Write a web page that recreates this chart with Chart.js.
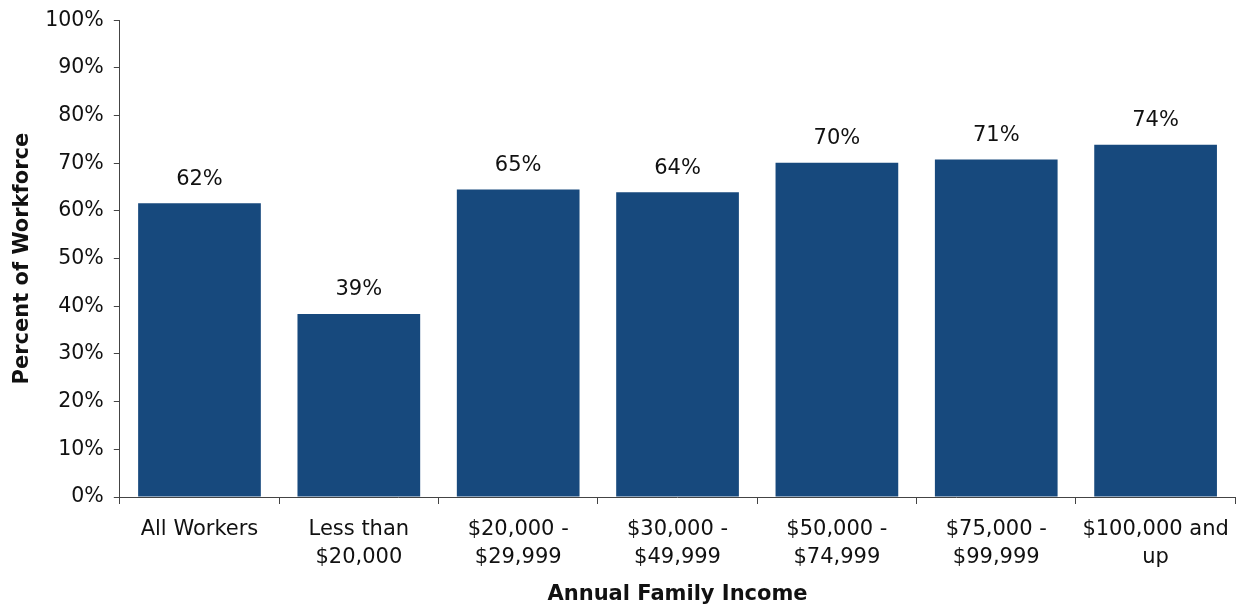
<!DOCTYPE html>
<html>
<head>
<meta charset="utf-8">
<script src="https://cdn.jsdelivr.net/npm/chart.js@4/dist/chart.umd.min.js"></script>
<style>
  html, body { margin: 0; padding: 0; background: #fff; }
</style>
</head>
<body>
<canvas id="chart" width="1241" height="605"></canvas>
<script>
var categories = [
  'All Workers',
  ['Less than', '$20,000'],
  ['$20,000 -', '$29,999'],
  ['$30,000 -', '$49,999'],
  ['$50,000 -', '$74,999'],
  ['$75,000 -', '$99,999'],
  ['$100,000 and', 'up']
];
var percentOfWorkforce = [61.6, 38.4, 64.5, 63.9, 70.1, 70.8, 73.9];
var valueLabels = ['62%', '39%', '65%', '64%', '70%', '71%', '74%'];

var FONT = '"DejaVu Sans", Verdana, sans-serif';

// draws the value text above each bar
var barLabels = {
  id: 'barLabels',
  afterDatasetsDraw: function (chart) {
    var c = chart.ctx;
    var meta = chart.getDatasetMeta(0);
    c.save();
    c.font = '21px ' + FONT;
    c.fillStyle = '#111';
    c.textAlign = 'center';
    c.textBaseline = 'middle';
    meta.data.forEach(function (bar, i) {
      c.fillText(valueLabels[i], bar.x, bar.y - 24);
    });
    c.restore();
  }
};

var ctx = document.getElementById('chart').getContext('2d');
var myChart = new Chart(ctx, {
  type: 'bar',
  data: {
    labels: categories,
    datasets: [{
      data: percentOfWorkforce,
      backgroundColor: '#17497d',
      borderWidth: 0,
      categoryPercentage: 1,
      barPercentage: 0.77,
    }],
  },
  plugins: [barLabels],
  options: {
    responsive: false,
    animation: false,
    devicePixelRatio: 1,
    layout: {
      padding: { left: 10, right: 3, top: -2, bottom: 0 },
    },
    plugins: {
      legend: { display: false },
      tooltip: { enabled: false },
    },
    scales: {
      x: {
        grid: {
          drawOnChartArea: false,
          tickLength: 7,
          color: '#444',
        },
        border: { color: '#444' },
        ticks: {
          color: '#111',
          font: { family: FONT, size: 21, lineHeight: 1.333 },
          padding: 12,
          maxRotation: 0,
        },
        title: {
          display: true,
          text: 'Annual Family Income',
          color: '#111',
          font: { family: FONT, size: 21, weight: 'bold', lineHeight: 1 },
          padding: { top: 0, bottom: 0 },
        },
      },
      y: {
        min: 0,
        max: 100,
        grid: {
          drawOnChartArea: false,
          tickLength: 6,
          color: '#444',
        },
        border: { color: '#444' },
        ticks: {
          stepSize: 10,
          color: '#111',
          font: { family: FONT, size: 20.5, lineHeight: 1 },
          padding: 10,
          callback: function (v) { return v + '%'; },
        },
        title: {
          display: true,
          text: 'Percent of Workforce',
          color: '#111',
          font: { family: FONT, size: 21, weight: 'bold' },
          padding: { top: 0, bottom: 0 },
        },
      },
    },
  },
});
</script>
</body>
</html>
